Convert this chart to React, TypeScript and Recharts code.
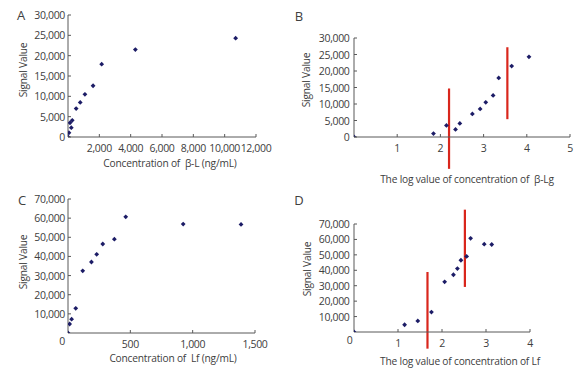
import React from 'react';
import { ScatterChart, Scatter, XAxis, YAxis, ReferenceLine } from 'recharts';

// panel A / B : beta-Lg
const betaConc = [0, 60, 130, 210, 270, 520, 780, 1080, 1600, 2150, 4300, 10700];
const betaLog = [0, 1.84, 2.14, 2.35, 2.45, 2.74, 2.92, 3.05, 3.22, 3.35, 3.65, 4.05];
const betaSignal = [0, 1050, 3500, 2300, 4100, 7000, 8500, 10500, 12600, 17900, 21500, 24300];

// panel C / D : Lf
const lfConc = [0, 13, 29, 62, 118, 188, 230, 279, 372, 463, 924, 1388];
const lfLog = [0, 1.15, 1.45, 1.76, 2.06, 2.26, 2.35, 2.43, 2.56, 2.65, 2.96, 3.13];
const lfSignal = [0, 4700, 7200, 12900, 32500, 37100, 41100, 46500, 49000, 60700, 56900, 56700];

// red cut-off lines: x, bottom, top
const betaCuts = [
  { x: 2.2, y1: -9650, y2: 14700 },
  { x: 3.55, y1: 5400, y2: 27200 },
];
const lfCuts = [
  { x: 1.67, y1: -10800, y2: 38900 },
  { x: 2.52, y1: 29200, y2: 79300 },
];

const ticksA_x = [2000, 4000, 6000, 8000, 10000, 12000];
const ticksB_x = [1, 2, 3, 4, 5];
const ticksC_x = [0, 500, 1000, 1500];
const ticksD_x = [0, 1, 2, 3, 4];
const ticks30k = [0, 5000, 10000, 15000, 20000, 25000, 30000];
const ticks70k = [10000, 20000, 30000, 40000, 50000, 60000, 70000];

const FONT = '"Open Sans", sans-serif';
const TEXT = '#404040';
const AXIS = '#595959';
const DOT = '#1c1c66';
const SP = '\u00a0';

const zip = (xs: number[], ys: number[]) => xs.map((x, i) => ({ x, y: ys[i] }));

const fmt = (v: number) => v.toLocaleString('en-US');

const Diamond = (props: any) => {
  const { cx, cy } = props;
  const r = 2.4;
  return <polygon points={`${cx},${cy - r} ${cx + r},${cy} ${cx},${cy + r} ${cx - r},${cy}`} fill={DOT} />;
};

const XTick = (props: any) => {
  const { x, y, payload, zeroDx = 0, zeroDy = 0 } = props;
  const isZero = payload.value === 0;
  return (
    <g>
      {!isZero && <line x1={x} y1={y - 3} x2={x} y2={y} stroke={AXIS} />}
      <text x={x + (isZero ? zeroDx : 0)} y={y + 15 + (isZero ? zeroDy : 0)} textAnchor="middle"
        fontSize={10.5} letterSpacing={-0.35} fontFamily={FONT} fill={TEXT}>
        {fmt(payload.value)}
      </text>
    </g>
  );
};

const YTick = (props: any) => {
  const { x, y, payload, gap = 3 } = props;
  return (
    <g>
      <line x1={x} y1={y} x2={x + 3} y2={y} stroke={AXIS} />
      <text x={x - gap} y={y + 4} textAnchor="end" fontSize={10.5} letterSpacing={-0.35} fontFamily={FONT} fill={TEXT}>
        {fmt(payload.value)}
      </text>
    </g>
  );
};

const Title = ({ px, py, text, rotate }: any) => (
  <text x={px} y={py} textAnchor="middle" dominantBaseline="central" fontSize={10.2} letterSpacing={-0.2}
    fontFamily={FONT} fill={TEXT}
    transform={rotate ? `rotate(-90 ${px} ${py})` : undefined}>
    {text}
  </text>
);

const Letter = ({ px, py, text }: any) => (
  <text x={px} y={py} textAnchor="middle" dominantBaseline="central" fontSize={13} fontFamily={FONT} fill={TEXT}>
    {text}
  </text>
);

interface PanelProps {
  left: number;
  top: number;
  height: number;
  margin: { top: number; right: number; bottom: number; left: number };
  yWidth: number;
  xHeight: number;
  xDomain: number[];
  xTicks: number[];
  yDomain: number[];
  yTicks: number[];
  data: { x: number; y: number }[];
  cuts?: { x: number; y1: number; y2: number }[];
  letter: { px: number; py: number; text: string };
  xTitle: { px: number; py: number; text: string };
  yTitle: { px: number; py: number };
  yGap: number;
  zeroDx?: number;
  zeroDy?: number;
}

const Panel = (p: PanelProps) => (
  <div style={{ position: 'absolute', left: p.left, top: p.top }}>
    <ScatterChart width={294} height={p.height} margin={p.margin}>
      <XAxis type="number" dataKey="x" domain={p.xDomain} ticks={p.xTicks} interval={0}
        height={p.xHeight} tickSize={0} tickMargin={0} stroke={AXIS} tickLine={false}
        allowDataOverflow
        tick={(t: any) => <XTick {...t} zeroDx={p.zeroDx} zeroDy={p.zeroDy} />}
        label={<Title px={p.xTitle.px} py={p.xTitle.py} text={p.xTitle.text} />} />
      <YAxis type="number" dataKey="y" domain={p.yDomain} ticks={p.yTicks} interval={0}
        width={p.yWidth} tickSize={0} tickMargin={0} stroke={AXIS} tickLine={false}
        allowDataOverflow
        tick={(t: any) => <YTick {...t} gap={p.yGap} />}
        label={<g>
          <Title px={p.yTitle.px} py={p.yTitle.py} text="Signal Value" rotate />
          <Letter px={p.letter.px} py={p.letter.py} text={p.letter.text} />
        </g>} />
      {(p.cuts || []).map((c, i) => (
        <ReferenceLine key={i} segment={[{ x: c.x, y: c.y1 }, { x: c.x, y: c.y2 }]}
          stroke="#d9261c" strokeWidth={2.2} ifOverflow="visible" />
      ))}
      <Scatter data={p.data} shape={<Diamond />} isAnimationActive={false} />
    </ScatterChart>
  </div>
);

export default function App() {
  return (
    <div style={{ position: 'absolute', left: 0, top: 0, width: 588, height: 381, background: '#fff', overflow: 'hidden' }}>
      <Panel left={0} top={0} height={190}
        margin={{ top: 15, right: 38, bottom: 0, left: 0 }} yWidth={68} xHeight={53}
        xDomain={[0, 12000]} xTicks={ticksA_x} yDomain={[0, 30000]} yTicks={ticks30k}
        data={zip(betaConc, betaSignal)}
        letter={{ px: 21, py: 15, text: 'A' }}
        xTitle={{ px: 170, py: 163, text: `Concentration of${SP} β-L (ng/mL)` }}
        yTitle={{ px: 23, py: 70 }} yGap={3} />
      <Panel left={294} top={0} height={190}
        margin={{ top: 38, right: 18, bottom: 0, left: 0 }} yWidth={60} xHeight={53}
        xDomain={[0, 5]} xTicks={ticksB_x} yDomain={[0, 30000]} yTicks={ticks30k}
        data={zip(betaLog, betaSignal)} cuts={betaCuts}
        letter={{ px: 5, py: 16, text: 'B' }}
        xTitle={{ px: 173, py: 179, text: `The log value of concentration of${SP} β-Lg` }}
        yTitle={{ px: 12, py: 80 }} yGap={4.5} />
      <Panel left={0} top={190} height={191}
        margin={{ top: 9, right: 39, bottom: 0, left: 0 }} yWidth={68} xHeight={48}
        xDomain={[0, 1500]} xTicks={ticksC_x} yDomain={[0, 70000]} yTicks={ticks70k}
        data={zip(lfConc, lfSignal)}
        letter={{ px: 22, py: 10, text: 'C' }}
        xTitle={{ px: 173, py: 168, text: `Concentration of${SP} Lf (ng/mL)` }}
        yTitle={{ px: 23, py: 72 }} yGap={3} zeroDx={-6} zeroDy={-3} />
      <Panel left={294} top={190} height={191}
        margin={{ top: 34, right: 58, bottom: 0, left: 0 }} yWidth={60} xHeight={49}
        xDomain={[0, 4]} xTicks={ticksD_x} yDomain={[0, 70000]} yTicks={ticks70k}
        data={zip(lfLog, lfSignal)} cuts={lfCuts}
        letter={{ px: 5, py: 10, text: 'D' }}
        xTitle={{ px: 166, py: 171, text: 'The log value of concentration of Lf' }}
        yTitle={{ px: 13, py: 79 }} yGap={4.5} zeroDx={-4.5} zeroDy={-3} />
    </div>
  );
}
